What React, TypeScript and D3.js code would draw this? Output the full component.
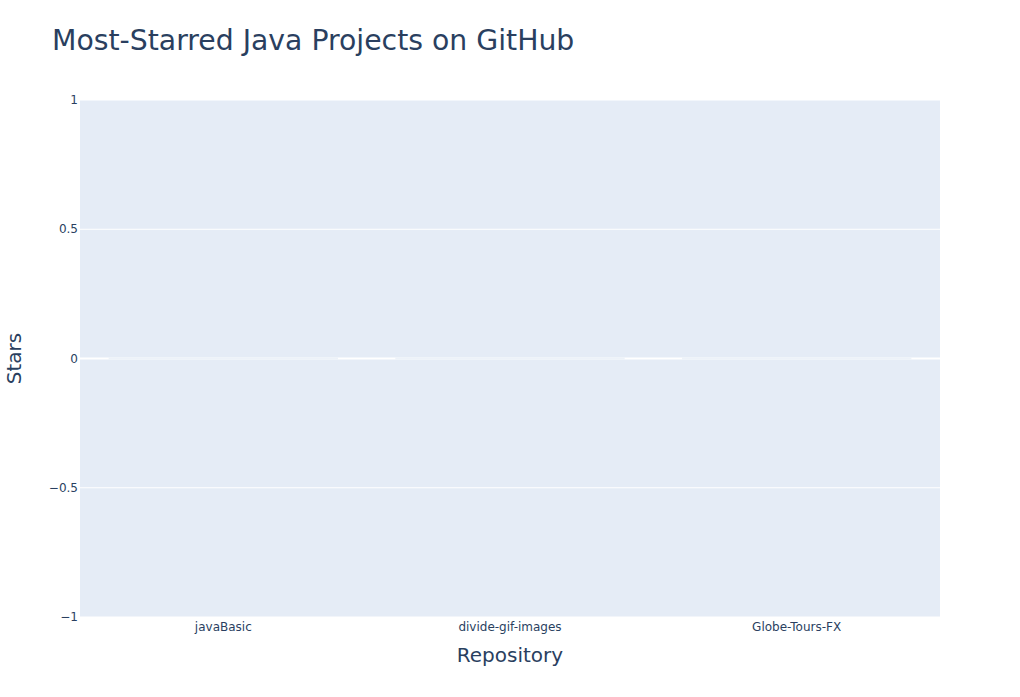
import React from "react";
import * as d3 from "d3";

const categories = ["javaBasic", "divide-gif-images", "Globe-Tours-FX"];
const stars = [0, 0, 0];
const yTicks = [-1, -0.5, 0, 0.5, 1];

const W = 1020;
const H = 697;
const M = { left: 80, right: 80, top: 100, bottom: 80 };
const FONT = '"DejaVu Sans", Verdana, sans-serif';
const TXT = "#2a3f5f";

export default function App() {
  const x = d3
    .scaleBand<string>()
    .domain(categories)
    .range([M.left, W - M.right])
    .paddingInner(0.2)
    .paddingOuter(0.1);
  const y = d3.scaleLinear().domain([-1, 1]).range([H - M.bottom, M.top]);
  const fmt = (v: number) => (v < 0 ? "\u2212" + Math.abs(v) : String(v));

  return (
    <svg
      width={W}
      height={H}
      style={{ position: "absolute", left: 0, top: 0, background: "#fff" }}
    >
      <rect
        x={M.left}
        y={M.top}
        width={W - M.left - M.right}
        height={H - M.top - M.bottom}
        fill="#E5ECF6"
      />
      {yTicks.map((t) => (
        <line
          key={"g" + t}
          x1={M.left}
          x2={W - M.right}
          y1={y(t)}
          y2={y(t)}
          stroke="#fff"
          strokeWidth={t === 0 ? 2 : 1}
        />
      ))}
      {categories.map((c, i) => {
        const x0 = x(c)!;
        const x1 = x0 + x.bandwidth();
        const y0 = y(0);
        const y1 = y(stars[i]);
        return (
          <path
            key={c}
            d={`M${x0},${y0}V${y1}H${x1}V${y0}Z`}
            fill="#636efa"
            stroke="#E5ECF6"
            strokeWidth={1.5}
            strokeOpacity={0.7}
          />
        );
      })}
      {yTicks.map((t) => (
        <text
          key={"t" + t}
          x={M.left - 2}
          y={y(t)}
          dy="0.35em"
          textAnchor="end"
          fontFamily={FONT}
          fontSize={12}
          fill={TXT}
        >
          {fmt(t)}
        </text>
      ))}
      {categories.map((c) => (
        <text
          key={"x" + c}
          x={x(c)! + x.bandwidth() / 2}
          y={H - M.bottom + 14}
          textAnchor="middle"
          fontFamily={FONT}
          fontSize={12}
          fill={TXT}
        >
          {c}
        </text>
      ))}
      <text
        x={52}
        y={50}
        fontFamily={FONT}
        fontSize={28.3}
        fill={TXT}
      >
        Most-Starred Java Projects on GitHub
      </text>
      <text
        x={(M.left + W - M.right) / 2}
        y={662}
        textAnchor="middle"
        fontFamily={FONT}
        fontSize={20}
        fill={TXT}
      >
        Repository
      </text>
      <text
        transform={`translate(21,${y(0)}) rotate(-90)`}
        textAnchor="middle"
        fontFamily={FONT}
        fontSize={20}
        fill={TXT}
      >
        Stars
      </text>
    </svg>
  );
}
